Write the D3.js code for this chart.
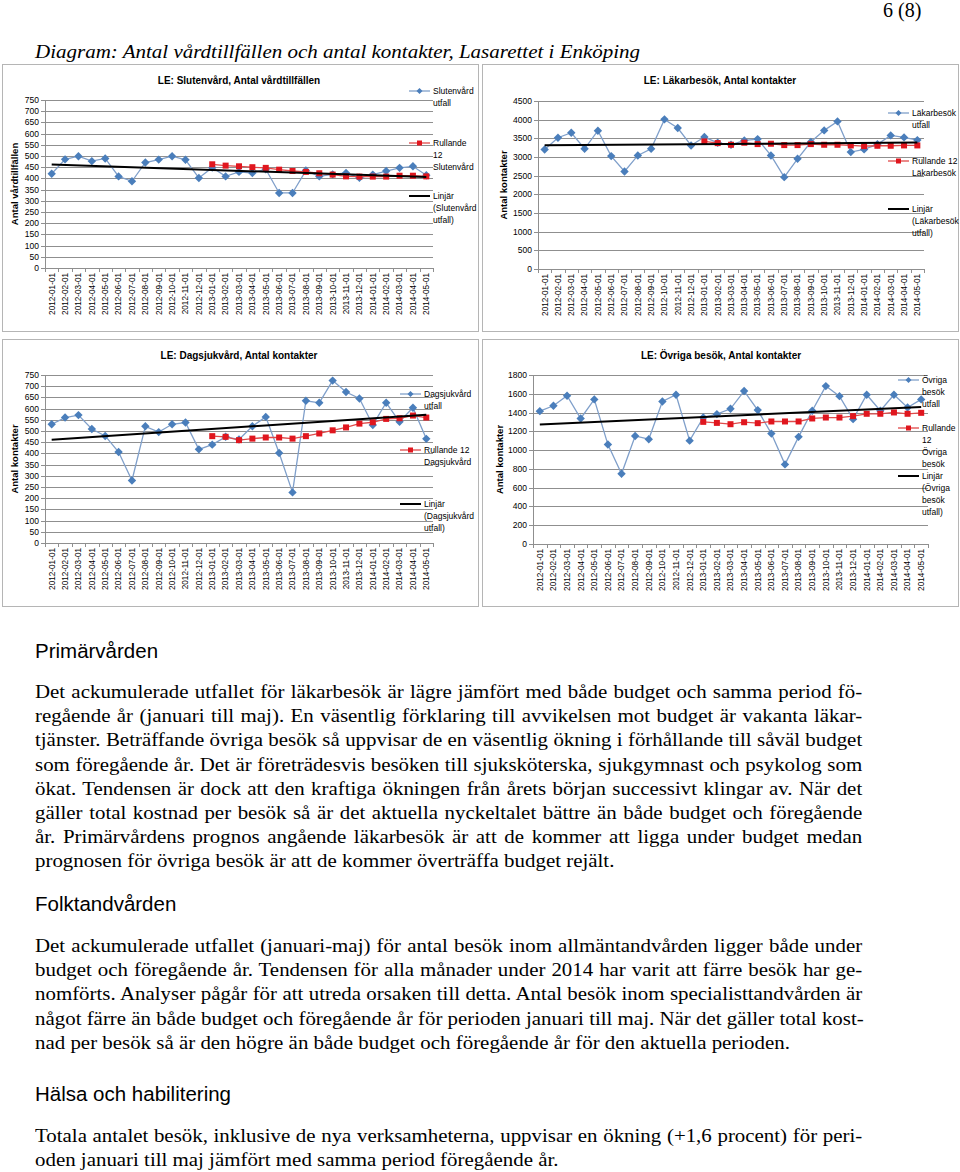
<!DOCTYPE html>
<html lang="sv">
<head>
<meta charset="UTF-8">
<title>Antal vårdtillfällen och antal kontakter, Lasarettet i Enköping</title>
<script src="https://d3js.org/d3.v7.min.js"></script>
<style>
    body { margin: 0; background: #fff; }
    #page { position: relative; width: 960px; height: 1172px; overflow: hidden; background: #fff; }
    #charts { position: absolute; left: 0; top: 0; }
    .chart-text { font-family: "Liberation Sans Narrow", "Liberation Sans", Arial, sans-serif; fill: #000; }
    .serif { position: absolute; font-family: "Liberation Serif", "Times New Roman", serif; color: #000; white-space: nowrap; }
    .line { position: absolute; left: 35px; font-family: "Liberation Serif", "Times New Roman", serif;
            font-size: 19px; line-height: 24px; white-space: nowrap; transform: scaleX(1.1); transform-origin: 0 0; }
    .just { width: 752px; text-align: justify; text-align-last: justify; }
    .heading { position: absolute; left: 35px; font-family: "Liberation Sans", Arial, sans-serif;
               font-size: 20.5px; line-height: 24px; white-space: nowrap; }
</style>
</head>
<body>
<div id="page">
    <svg id="charts" width="960" height="620"></svg>
</div>

<script>
    // --- Data ---
    const months = [
        "2012-01-01","2012-02-01","2012-03-01","2012-04-01","2012-05-01","2012-06-01","2012-07-01",
        "2012-08-01","2012-09-01","2012-10-01","2012-11-01","2012-12-01","2013-01-01","2013-02-01",
        "2013-03-01","2013-04-01","2013-05-01","2013-06-01","2013-07-01","2013-08-01","2013-09-01",
        "2013-10-01","2013-11-01","2013-12-01","2014-01-01","2014-02-01","2014-03-01","2014-04-01","2014-05-01"
    ];
    // rolling 12 series start at 2013-01-01
    const rollingMonths = months.slice(12);

    const slutenUtfall = [421, 485, 499, 477, 489, 409, 387, 471, 484, 499, 483, 402, 448, 409, 429,
                          424, 441, 335, 335, 435, 409, 418, 424, 403, 417, 433, 447, 454, 414];
    const slutenRullande = [463, 457, 454, 450, 447, 439, 433, 429, 423, 417, 409, 408, 408, 408, 412, 412, 409];

    const lakarUtfall = [3200, 3516, 3650, 3220, 3704, 3024, 2612, 3042, 3220, 4008, 3775, 3310, 3534, 3380, 3328,
                         3444, 3480, 3042, 2460, 2952, 3400, 3713, 3954, 3131, 3203, 3340, 3579, 3525, 3453];
    const lakarRullande = [3417, 3372, 3328, 3382, 3346, 3355, 3319, 3319, 3346, 3328, 3328, 3310, 3292, 3301, 3301, 3310, 3310];

    const dagUtfall = [530, 560, 571, 509, 478, 406, 279, 521, 495, 530, 538, 418, 439, 474, 462,
                       521, 563, 402, 226, 635, 626, 725, 674, 645, 527, 626, 541, 604, 465];
    const dagRullande = [477, 474, 459, 466, 471, 471, 466, 477, 489, 503, 516, 533, 539, 554, 557, 569, 560];

    const ovrigaUtfall = [1415, 1472, 1579, 1337, 1540, 1059, 749, 1151, 1116, 1518, 1590, 1101, 1347, 1383, 1440,
                          1629, 1426, 1176, 848, 1141, 1419, 1682, 1575, 1330, 1590, 1419, 1590, 1454, 1540];
    const ovrigaRullande = [1301, 1290, 1276, 1297, 1287, 1305, 1305, 1305, 1337, 1347, 1347, 1362, 1387, 1387, 1401, 1387, 1397];

    // --- Chart layout ---
    const charts = [
        { panel: [2, 64, 476, 267], l: 45, r: 433, t: 100, b: 268, yMax: 750, yStep: 50,
          title: "LE: Slutenvård, Antal vårdtillfällen", titleX: 239, titleY: 80,
          yTitle: "Antal vårdtillfällen", yTitleX: 15,
          utfall: slutenUtfall, rullande: slutenRullande,
          legendX: 409, legend: [
            { kind: "utfall", lines: ["Slutenvård", "utfall"], y: 91 },
            { kind: "rullande", lines: ["Rullande", "12", "Slutenvård"], y: 143 },
            { kind: "trend", lines: ["Linjär", "(Slutenvård", "utfall)"], y: 196 } ] },
        { panel: [482, 64, 476, 267], l: 538, r: 924, t: 101, b: 269, yMax: 4500, yStep: 500,
          title: "LE: Läkarbesök, Antal kontakter", titleX: 720, titleY: 80,
          yTitle: "Antal kontakter", yTitleX: 504,
          utfall: lakarUtfall, rullande: lakarRullande,
          legendX: 888, legend: [
            { kind: "utfall", lines: ["Läkarbesök", "utfall"], y: 113 },
            { kind: "rullande", lines: ["Rullande 12", "Läkarbesök"], y: 161 },
            { kind: "trend", lines: ["Linjär", "(Läkarbesök", "utfall)"], y: 209 } ] },
        { panel: [2, 339, 476, 267], l: 45, r: 433, t: 375, b: 543, yMax: 750, yStep: 50,
          title: "LE: Dagsjukvård, Antal kontakter", titleX: 239, titleY: 355,
          yTitle: "Antal kontakter", yTitleX: 15,
          utfall: dagUtfall, rullande: dagRullande,
          legendX: 400, legend: [
            { kind: "utfall", lines: ["Dagsjukvård", "utfall"], y: 394 },
            { kind: "rullande", lines: ["Rullande 12", "Dagsjukvård"], y: 450 },
            { kind: "trend", lines: ["Linjär", "(Dagsjukvård", "utfall)"], y: 504 } ] },
        { panel: [482, 339, 476, 267], l: 533, r: 928, t: 375, b: 544, yMax: 1800, yStep: 200,
          title: "LE: Övriga besök, Antal kontakter", titleX: 721, titleY: 355,
          yTitle: "Antal kontakter", yTitleX: 500,
          utfall: ovrigaUtfall, rullande: ovrigaRullande,
          legendX: 898, legend: [
            { kind: "utfall", lines: ["Övriga", "besök", "utfall"], y: 380 },
            { kind: "rullande", lines: ["Rullande", "12", "Övriga", "besök"], y: 428 },
            { kind: "trend", lines: ["Linjär", "(Övriga", "besök", "utfall)"], y: 476 } ] }
    ];

    const BLUE_LINE = "#7f9fca", BLUE = "#4a7ebb", RED = "#e0161e", RED_LINE = "#e04a4a";
    const GRID = "#8f8f8f";
    const diamond = "M0,-4.2L4.2,0L0,4.2L-4.2,0Z";

    const svg = d3.select("#charts");

    function drawChart(c) {
        const g = svg.append("g");
        g.append("rect").attr("x", c.panel[0] + 0.5).attr("y", c.panel[1] + 0.5)
            .attr("width", c.panel[2]).attr("height", c.panel[3])
            .attr("fill", "#fff").attr("stroke", "#b5b5b5");

        const x = d3.scaleBand().domain(months).range([c.l, c.r]);
        const cx = d => x(d) + x.bandwidth() / 2;
        const y = d3.scaleLinear().domain([0, c.yMax]).range([c.b, c.t]);
        const ticks = d3.range(0, c.yMax + 1, c.yStep);

        // gridlines
        g.selectAll(".grid").data(ticks).join("line")
            .attr("x1", c.l).attr("x2", c.r)
            .attr("y1", d => Math.round(y(d)) + 0.5).attr("y2", d => Math.round(y(d)) + 0.5)
            .attr("stroke", GRID).attr("stroke-width", 1);

        // y axis
        g.append("line").attr("x1", c.l + 0.5).attr("x2", c.l + 0.5).attr("y1", c.t).attr("y2", c.b)
            .attr("stroke", GRID);
        g.selectAll(".ytick").data(ticks).join("line")
            .attr("x1", c.l - 4).attr("x2", c.l)
            .attr("y1", d => Math.round(y(d)) + 0.5).attr("y2", d => Math.round(y(d)) + 0.5)
            .attr("stroke", GRID);
        g.selectAll(".ylab").data(ticks).join("text").attr("class", "chart-text")
            .attr("x", c.l - 6).attr("y", d => y(d)).attr("dy", "0.35em")
            .attr("text-anchor", "end").attr("font-size", 8.5).text(d => d);

        // x axis ticks and labels
        g.selectAll(".xtick").data(months.concat(["end"])).join("line")
            .attr("x1", (d, i) => Math.round(c.l + i * x.step()) + 0.5)
            .attr("x2", (d, i) => Math.round(c.l + i * x.step()) + 0.5)
            .attr("y1", c.b).attr("y2", c.b + 4).attr("stroke", GRID);
        g.selectAll(".xlab").data(months).join("text").attr("class", "chart-text")
            .attr("transform", d => `translate(${cx(d)},${c.b + 5}) rotate(-90)`)
            .attr("dy", "0.35em").attr("text-anchor", "end").attr("font-size", 8.2).text(d => d);

        // titles
        g.append("text").attr("class", "chart-text").attr("x", c.titleX).attr("y", c.titleY)
            .attr("dy", "0.35em").attr("text-anchor", "middle").attr("font-size", 10)
            .attr("font-weight", "bold").text(c.title);
        g.append("text").attr("class", "chart-text")
            .attr("transform", `translate(${c.yTitleX},${(c.t + c.b) / 2}) rotate(-90)`)
            .attr("dy", "0.35em").attr("text-anchor", "middle").attr("font-size", 9.5)
            .attr("font-weight", "bold").text(c.yTitle);

        // linear trend (least squares on utfall)
        const n = c.utfall.length;
        const mx = d3.mean(d3.range(n)), my = d3.mean(c.utfall);
        const slope = d3.sum(d3.range(n), i => (i - mx) * (c.utfall[i] - my)) / d3.sum(d3.range(n), i => (i - mx) ** 2);
        const icept = my - slope * mx;

        const line = d3.line().x(d => cx(d[0])).y(d => y(d[1]));
        const utf = months.map((m, i) => [m, c.utfall[i]]);
        const rul = rollingMonths.map((m, i) => [m, c.rullande[i]]);
        const trend = [[months[0], icept], [months[n - 1], icept + slope * (n - 1)]];

        g.append("path").datum(utf).attr("d", line).attr("fill", "none")
            .attr("stroke", BLUE_LINE).attr("stroke-width", 1.3);
        g.selectAll(".dia").data(utf).join("path")
            .attr("transform", d => `translate(${cx(d[0])},${y(d[1])})`)
            .attr("d", diamond).attr("fill", BLUE);

        g.append("path").datum(rul).attr("d", line).attr("fill", "none")
            .attr("stroke", RED_LINE).attr("stroke-width", 1.3);
        g.selectAll(".sq").data(rul).join("rect")
            .attr("x", d => cx(d[0]) - 3).attr("y", d => y(d[1]) - 3)
            .attr("width", 6).attr("height", 6).attr("fill", RED);

        g.append("path").datum(trend).attr("d", line).attr("fill", "none")
            .attr("stroke", "#000").attr("stroke-width", 2);

        // legend
        c.legend.forEach(e => {
            const lx0 = c.legendX, lx1 = c.legendX + 21, ly = e.y;
            g.append("line").attr("x1", lx0).attr("x2", lx1).attr("y1", ly).attr("y2", ly)
                .attr("stroke", e.kind === "utfall" ? BLUE_LINE : e.kind === "rullande" ? RED_LINE : "#000")
                .attr("stroke-width", e.kind === "trend" ? 2 : 1.3);
            if (e.kind === "utfall") {
                g.append("path").attr("transform", `translate(${(lx0 + lx1) / 2},${ly})`)
                    .attr("d", "M0,-3L3,0L0,3L-3,0Z").attr("fill", BLUE);
            } else if (e.kind === "rullande") {
                g.append("rect").attr("x", (lx0 + lx1) / 2 - 2.5).attr("y", ly - 2.5)
                    .attr("width", 5).attr("height", 5).attr("fill", RED);
            }
            const t = g.append("text").attr("class", "chart-text").attr("font-size", 8.5);
            e.lines.forEach((s, i) => {
                t.append("tspan").attr("x", lx1 + 3).attr("y", ly + i * 12).attr("dy", "0.35em").text(s);
            });
        });
    }

    charts.forEach(drawChart);

    // --- Document text ---
    const page = d3.select("#page");
    page.append("div").attr("class", "serif")
        .style("left", "883px").style("top", "-2px").style("font-size", "20px").style("line-height", "24px")
        .text("6 (8)");
    page.append("div").attr("class", "serif")
        .style("left", "35px").style("top", "40px").style("font-size", "19px").style("line-height", "24px")
        .style("font-style", "italic").style("transform", "scaleX(1.105)").style("transform-origin", "0 0")
        .text("Diagram: Antal vårdtillfällen och antal kontakter, Lasarettet i Enköping");

    const headings = [
        { text: "Primärvården", y: 652 },
        { text: "Folktandvården", y: 905 },
        { text: "Hälsa och habilitering", y: 1095 }
    ];
    headings.forEach(h => page.append("div").attr("class", "heading").style("top", (h.y - 13) + "px").text(h.text));

    const paragraphs = [
        { y: 692, lines: [
            "Det ackumulerade utfallet för läkarbesök är lägre jämfört med både budget och samma period fö-",
            "regående år (januari till maj). En väsentlig förklaring till avvikelsen mot budget är vakanta läkar-",
            "tjänster. Beträffande övriga besök så uppvisar de en väsentlig ökning i förhållande till såväl budget",
            "som föregående år.  Det är företrädesvis besöken till sjuksköterska, sjukgymnast och psykolog som",
            "ökat. Tendensen är dock att den kraftiga ökningen från årets början successivt klingar av. När det",
            "gäller total kostnad per besök så är det aktuella nyckeltalet bättre än både budget och föregående",
            "år. Primärvårdens prognos angående läkarbesök är att de kommer att ligga under budget medan",
            "prognosen för övriga besök är att de kommer överträffa budget rejält." ] },
        { y: 946, lines: [
            "Det ackumulerade utfallet (januari-maj) för antal besök inom allmäntandvården ligger både under",
            "budget och föregående år. Tendensen för alla månader under 2014 har varit att färre besök har ge-",
            "nomförts. Analyser pågår för att utreda orsaken till detta. Antal besök inom specialisttandvården är",
            "något färre än både budget och föregående år för perioden januari till maj. När det gäller total kost-",
            "nad per besök så är den högre än både budget och föregående år för den aktuella perioden." ] },
        { y: 1136, lines: [
            "Totala antalet besök, inklusive de nya verksamheterna, uppvisar en ökning (+1,6 procent) för peri-",
            "oden januari till maj jämfört med samma period föregående år." ] }
    ];
    paragraphs.forEach(p => {
        p.lines.forEach((s, i) => {
            page.append("div")
                .attr("class", i < p.lines.length - 1 ? "line just" : "line")
                .style("top", (p.y - 12 + i * 24.2) + "px")
                .text(s);
        });
    });
</script>
</body>
</html>
